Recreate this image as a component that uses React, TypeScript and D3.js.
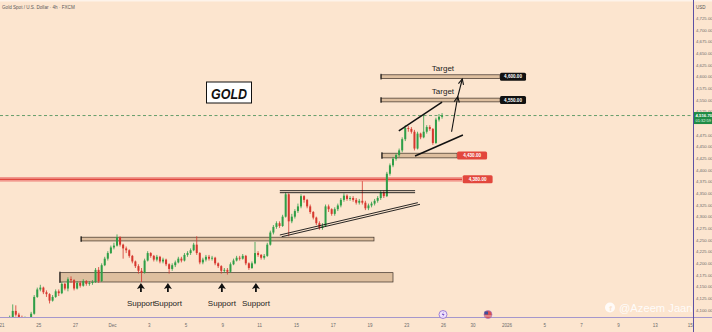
import React from 'react';
import * as d3 from 'd3';

// ---------- DATA ----------
const openStart = 4070;
const closes = [
  4075, 4072, 4082, 4098, 4090, 4084, 4078, 4082, 4076, 4092,
  4128, 4144, 4148, 4138, 4134, 4120, 4128, 4140, 4136, 4156,
  4146, 4166, 4164, 4146, 4158, 4152, 4162, 4156, 4158, 4160,
  4186, 4162, 4196, 4210, 4222, 4234, 4238, 4256, 4240, 4232,
  4228, 4216, 4204, 4194, 4184, 4180, 4206, 4222, 4216, 4208,
  4214, 4204, 4208, 4198, 4188, 4196, 4202, 4210, 4206, 4218,
  4222, 4228, 4240, 4222, 4202, 4208, 4214, 4210, 4212, 4200,
  4194, 4184, 4186, 4182, 4198, 4206, 4212, 4210, 4216, 4200,
  4190, 4200, 4222, 4218, 4212, 4216, 4240, 4266, 4278, 4286,
  4280, 4300, 4348, 4290, 4300, 4312, 4322, 4344, 4336, 4322,
  4310, 4298, 4286, 4276, 4280, 4322, 4316, 4306, 4316, 4324,
  4336, 4345, 4338, 4340, 4336, 4330, 4334, 4330, 4318, 4324,
  4328, 4334, 4340, 4352, 4344, 4392, 4410, 4424, 4432, 4442,
  4466, 4490, 4488, 4482, 4446, 4478, 4470, 4482, 4492, 4488,
  4458, 4508, 4514, 4516.7,
];
const highs = [
  4079, 4078, 4088, 4112, 4110, 4094, 4088, 4086, 4084, 4096,
  4132, 4148, 4154, 4150, 4142, 4136, 4132, 4144, 4144, 4160,
  4158, 4170, 4172, 4166, 4162, 4162, 4166, 4164, 4162, 4164,
  4190, 4192, 4200, 4214, 4226, 4238, 4244, 4262, 4258, 4242,
  4236, 4230, 4218, 4206, 4198, 4190, 4210, 4226, 4224, 4218,
  4218, 4216, 4212, 4210, 4200, 4200, 4206, 4214, 4214, 4222,
  4226, 4232, 4244, 4258, 4224, 4212, 4218, 4218, 4216, 4214,
  4202, 4196, 4190, 4190, 4202, 4210, 4216, 4216, 4220, 4218,
  4202, 4204, 4246, 4226, 4220, 4220, 4244, 4270, 4282, 4290,
  4290, 4304, 4352, 4350, 4306, 4316, 4328, 4348, 4346, 4338,
  4326, 4312, 4300, 4290, 4286, 4326, 4326, 4318, 4320, 4328,
  4340, 4350, 4348, 4344, 4344, 4340, 4338, 4376, 4334, 4328,
  4332, 4338, 4344, 4356, 4356, 4396, 4414, 4428, 4436, 4446,
  4470, 4496, 4494, 4492, 4486, 4482, 4480, 4520, 4496, 4496,
  4490, 4512, 4520, 4522,
];
const lows = [
  4064, 4066, 4070, 4080, 4086, 4078, 4072, 4074, 4070, 4074,
  4090, 4126, 4140, 4134, 4128, 4114, 4118, 4126, 4130, 4134,
  4142, 4140, 4158, 4142, 4144, 4148, 4150, 4152, 4152, 4154,
  4158, 4158, 4160, 4194, 4206, 4220, 4230, 4236, 4236, 4210,
  4222, 4212, 4200, 4190, 4178, 4160, 4178, 4204, 4212, 4204,
  4204, 4200, 4200, 4194, 4178, 4184, 4192, 4200, 4202, 4204,
  4214, 4218, 4226, 4218, 4198, 4198, 4204, 4206, 4206, 4196,
  4190, 4178, 4180, 4176, 4180, 4196, 4204, 4206, 4208, 4196,
  4186, 4188, 4198, 4214, 4208, 4208, 4214, 4238, 4262, 4274,
  4276, 4278, 4298, 4258, 4286, 4296, 4308, 4318, 4330, 4318,
  4306, 4294, 4282, 4272, 4272, 4278, 4310, 4302, 4302, 4312,
  4320, 4332, 4334, 4334, 4332, 4326, 4326, 4326, 4314, 4314,
  4320, 4324, 4330, 4336, 4340, 4342, 4388, 4406, 4420, 4428,
  4438, 4462, 4482, 4478, 4442, 4444, 4466, 4468, 4478, 4484,
  4454, 4456, 4504, 4510,
];

const priceTicks = [
  4725, 4700, 4675, 4650, 4625, 4600, 4575, 4550, 4525, 4475, 4450, 4425,
  4400, 4375, 4350, 4325, 4300, 4275, 4250, 4225, 4200, 4175, 4150, 4125, 4100,
];
const dateLabels = ['21', '25', '27', 'Dec', '3', '5', '9', '11', '15', '17', '19', '23', '26', '30', '2026', '5', '7', '9', '13', '15'];
const dateDays = [0, 2, 4, 6, 8, 10, 12, 14, 16, 18, 20, 22, 24, 25.6, 27.45, 29.5, 31.5, 33.5, 35.5, 37.4];

// zones: [barStart, barEnd, priceLow, priceHigh]
const zones = [
  [18.9, 127.5, 4160, 4180],
  [25.8, 121.3, 4248, 4256],
  [123.9, 148.4, 4426, 4436],
  [123.6, 162.4, 4596, 4604],
  [123.6, 162.4, 4546, 4554],
];
const redLevel = 4380;
const redLevelEnd = 150;
const levelTags = [
  { bar: 150.2, price: 4380, text: '4,380.00', kind: 'red' },
  { bar: 148.4, price: 4431, text: '4,430.00', kind: 'red' },
  { bar: 162.4, price: 4600, text: '4,600.00', kind: 'black' },
  { bar: 162.4, price: 4550, text: '4,550.00', kind: 'black' },
];
// trend lines: [bar0, price0, bar1, price1]
const thinPairLines = [
  [90.6, 4355.7, 134.7, 4355.7],
  [90.6, 4351.4, 134.7, 4351.4],
  [90.6, 4260.7, 135.6, 4330],
  [91.2, 4257, 136.3, 4326.5],
];
const wedgeLines = [
  [129.4, 4483.6, 143.5, 4545.7],
  [134.7, 4430, 150.3, 4475],
];
const arrows = [
  [146.6, 4482, 148.6, 4557],
  [148.5, 4554, 150.1, 4595],
];
const supportBars = [45.3, 54.1, 71.7, 82.8];
const targetLabels = [
  { bar: 143.8, price: 4613 },
  { bar: 143.8, price: 4563 },
];
const lastPrice = 4516.7;

const FONT = 'Liberation Sans, Arial, sans-serif';

export default function App() {
  const W = 712;
  const H = 332;
  const plotR = 693;
  const plotB = 317;
  const x = d3.scaleLinear().domain([0, 6]).range([2, 20.4]);
  const y = d3.scaleLinear().domain([4100, 4400]).range([310, 170]);
  const fmt = d3.format(',.2f');

  const candles = closes.map((c, i) => ({
    i,
    o: i === 0 ? openStart : closes[i - 1],
    c,
    h: highs[i],
    l: lows[i],
  }));

  const green = '#2f9e47';
  const red = '#d6372e';

  const arrowHead = (x1: number, y1: number, x2: number, y2: number, len = 6) => {
    const a = Math.atan2(y2 - y1, x2 - x1);
    const a1 = a + Math.PI - 0.45;
    const a2 = a + Math.PI + 0.45;
    return `M${x2 + len * Math.cos(a1)},${y2 + len * Math.sin(a1)} L${x2},${y2} L${x2 + len * Math.cos(a2)},${y2 + len * Math.sin(a2)}`;
  };

  const ly0 = y(lastPrice);

  return (
    <svg
      width={W}
      height={H}
      viewBox={`0 0 ${W} ${H}`}
      style={{ position: 'absolute', left: 0, top: 0, display: 'block' }}
      fontFamily={FONT}
    >
      <defs>
        <clipPath id="plot">
          <rect x={0} y={0} width={plotR} height={plotB} />
        </clipPath>
        <clipPath id="dates">
          <rect x={0} y={plotB} width={plotR} height={H - plotB} />
        </clipPath>
      </defs>
      <rect x={0} y={0} width={W} height={H} fill="#fce5cf" />
      <rect x={0} y={0} width={W} height={1.5} fill="#fdf3ea" />

      {/* title */}
      <text x={2} y={9} fontSize={4.6} fill="#5a5a5a">
        Gold Spot / U.S. Dollar · 4h · FXCM
      </text>

      <g clipPath="url(#plot)">
        {/* red level */}
        <rect
          x={x(-1)}
          y={y(redLevel + 5)}
          width={x(redLevelEnd) - x(-1)}
          height={y(redLevel - 5) - y(redLevel + 5)}
          fill="#ee8b82"
          opacity={0.85}
        />
        <line x1={x(-1)} x2={x(redLevelEnd)} y1={y(redLevel)} y2={y(redLevel)} stroke="#e0463c" strokeWidth={1.2} />

        {/* zones */}
        {zones.map((z, k) => (
          <g key={k}>
            <rect
              x={x(z[0])}
              y={y(z[3])}
              width={x(z[1]) - x(z[0])}
              height={y(z[2]) - y(z[3])}
              fill="#d8b897"
              fillOpacity={0.85}
              stroke="#3b2e26"
              strokeWidth={0.7}
            />
            <line x1={x(z[0])} x2={x(z[0])} y1={y(z[3]) - 1} y2={y(z[2]) + 1} stroke="#111" strokeWidth={1} />
          </g>
        ))}

        {/* current price line */}
        <line x1={0} x2={plotR} y1={ly0} y2={ly0} stroke="#3f8c50" strokeWidth={0.8} strokeDasharray="3,2.5" />

        {/* candles */}
        {candles.map((d) => {
          const cx = x(d.i + 0.5);
          const col = d.c >= d.o ? green : red;
          const top = y(Math.max(d.o, d.c));
          const bot = y(Math.min(d.o, d.c));
          return (
            <g key={d.i}>
              <line x1={cx} x2={cx} y1={y(d.h)} y2={y(d.l)} stroke={col} strokeWidth={0.8} />
              <rect x={cx - 1} y={top} width={2} height={Math.max(0.8, bot - top)} fill={col} />
            </g>
          );
        })}

        {/* triangle lines */}
        {thinPairLines.map((l, k) => (
          <line key={k} x1={x(l[0])} y1={y(l[1])} x2={x(l[2])} y2={y(l[3])} stroke="#111" strokeWidth={0.9} />
        ))}
        {/* wedge lines */}
        {wedgeLines.map((l, k) => (
          <line key={k} x1={x(l[0])} y1={y(l[1])} x2={x(l[2])} y2={y(l[3])} stroke="#111" strokeWidth={1.5} />
        ))}
        {/* arrows */}
        {arrows.map((a, k) => {
          const x1 = x(a[0]);
          const y1 = y(a[1]);
          const x2 = x(a[2]);
          const y2 = y(a[3]);
          return (
            <g key={k} stroke="#111" strokeWidth={1.1} fill="none">
              <line x1={x1} y1={y1} x2={x2} y2={y2} />
              <path d={arrowHead(x1, y1, x2, y2)} />
            </g>
          );
        })}

        {/* support arrows */}
        {supportBars.map((b, k) => {
          const cx = x(b);
          const ty = y(4158);
          return (
            <g key={k}>
              <path
                d={`M${cx},${ty} L${cx + 4},${ty + 6} L${cx + 0.9},${ty + 5} L${cx + 0.9},${ty + 9} L${cx - 0.9},${ty + 9} L${cx - 0.9},${ty + 5} L${cx - 4},${ty + 6} Z`}
                fill="#111"
              />
              <text x={cx} y={ty + 23} fontSize={8} textAnchor="middle" fill="#1c1c1c" fontWeight={500}>
                Support
              </text>
            </g>
          );
        })}

        {/* target labels */}
        {targetLabels.map((t, k) => (
          <text key={k} x={x(t.bar)} y={y(t.price)} fontSize={8} textAnchor="middle" fill="#1c1c1c">
            Target
          </text>
        ))}

        {/* level tags */}
        {levelTags.map((t, k) => {
          const w = t.kind === 'red' ? 30 : 26;
          const h = 8;
          const lx = x(t.bar);
          const ly = y(t.price);
          return (
            <g key={k}>
              <rect x={lx} y={ly - h / 2} width={w} height={h} rx={1.5} fill={t.kind === 'red' ? '#e2473d' : '#111'} />
              <text x={lx + w / 2} y={ly + 1.7} fontSize={4.6} textAnchor="middle" fill="#fff" fontWeight="bold">
                {t.text}
              </text>
            </g>
          );
        })}

        {/* GOLD box */}
        <rect x={206.5} y={82} width={45} height={21} fill="#fff" stroke="#111" strokeWidth={1} />
        <text
          x={229}
          y={98.5}
          fontSize={15.5}
          textAnchor="middle"
          fontWeight="bold"
          fontStyle="italic"
          fill="#111"
          textLength={36}
          lengthAdjust="spacingAndGlyphs"
        >
          GOLD
        </text>
      </g>

      {/* axes */}
      <line x1={0} x2={W} y1={plotB + 0.5} y2={plotB + 0.5} stroke="#a597cc" strokeWidth={1} />
      <line x1={plotR + 0.5} x2={plotR + 0.5} y1={0} y2={H} stroke="#5c50a4" strokeWidth={1} />

      {/* price axis labels */}
      <text x={696} y={9} fontSize={4.5} fill="#555">USD</text>
      {priceTicks.map((p) => (
        <text key={p} x={696} y={y(p) + 1.5} fontSize={4.3} fill="#6b6b6b">
          {fmt(p)}
        </text>
      ))}
      {/* last price tag */}
      <rect x={694} y={ly0 - 3.5} width={18} height={12} fill="#1f8b45" />
      <text x={695.5} y={ly0 + 1.6} fontSize={4.3} fill="#fff" fontWeight="bold">
        {fmt(lastPrice)}
      </text>
      <text x={695.5} y={ly0 + 6.6} fontSize={4} fill="#e6ffe9">
        01:32:59
      </text>

      {/* date labels */}
      <g clipPath="url(#dates)">
        {dateLabels.map((t, k) => (
          <text key={k} x={x(dateDays[k] * 6)} y={327} fontSize={4.5} textAnchor="middle" fill="#6b6b6b">
            {t}
          </text>
        ))}
      </g>

      {/* event icons */}
      <circle cx={443} cy={314.5} r={4} fill="#efe2fb" stroke="#8a68cf" strokeWidth={0.8} />
      <path d="M443.8,311.5 L441.8,315 L443.4,315 L442.4,317.6 L444.6,313.9 L443,313.9 Z" fill="#7a55c8" />
      <circle cx={488} cy={314.5} r={4} fill="#d65151" stroke="#9b7ad6" strokeWidth={0.6} />
      <rect x={484.5} y={311.5} width={3.5} height={3} fill="#3d4f9a" />
      <line x1={484.5} x2={491.5} y1={316} y2={316} stroke="#fff" strokeWidth={0.6} />

      {/* watermark */}
      <circle cx={610} cy={307.5} r={5} fill="#fff" opacity={0.85} />
      <text x={610.6} y={311} fontSize={8} textAnchor="middle" fill="#fce5cf" fontWeight="bold">
        f
      </text>
      <text x={619} y={312} fontSize={11.2} fill="#fff" opacity={0.88}>
        @Azeem Jaan
      </text>
    </svg>
  );
}
